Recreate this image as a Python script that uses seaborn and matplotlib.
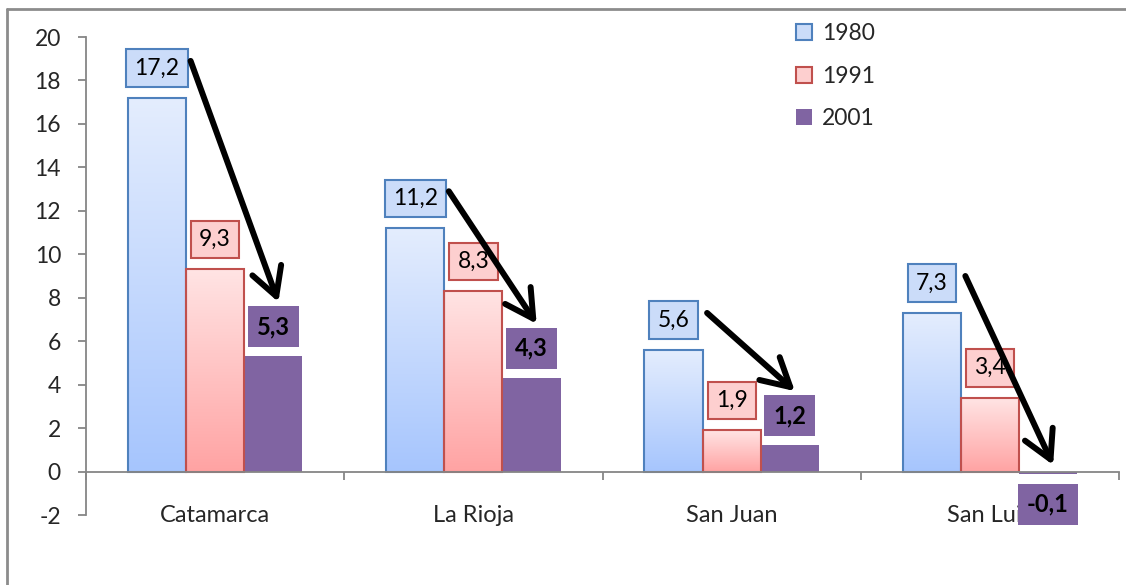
import numpy as np
import pandas as pd
import matplotlib
matplotlib.use("Agg")
import matplotlib.pyplot as plt
import seaborn as sns
from matplotlib.colors import LinearSegmentedColormap
from matplotlib.patches import Patch
from matplotlib.lines import Line2D

# ---------------- data ----------------
provincias = ["Catamarca", "La Rioja", "San Juan", "San Luis"]
anios = ["1980", "1991", "2001"]
v1980 = [17.2, 11.2, 5.6, 7.3]
v1991 = [9.3, 8.3, 1.9, 3.4]
v2001 = [5.3, 4.3, 1.2, -0.1]
yticks = list(range(-2, 21, 2))

df = pd.DataFrame({
    "provincia": provincias * 3,
    "anio": [a for a in anios for _ in provincias],
    "valor": v1980 + v1991 + v2001,
})

# ---------------- style ----------------
sns.set_theme(style="white")
plt.rcParams["font.family"] = ["Lato", "DejaVu Sans"]
FS = 16.5

blue_edge = "#4f81bd"
red_edge = "#c0504d"
purple = "#8064a2"
blue_cmap = LinearSegmentedColormap.from_list("b", ["#a6c5fd", "#e4edfe"])
red_cmap = LinearSegmentedColormap.from_list("r", ["#ffa3a3", "#ffe4e4"])

fig = plt.figure(figsize=(11.26, 5.85), dpi=100)
ax = fig.add_axes([86 / 1126, 1 - 515 / 585, (1119 - 86) / 1126, (515 - 37) / 585])

sns.barplot(data=df, x="provincia", y="valor", hue="anio", hue_order=anios,
            palette=["#c6d9f8", "#fdcaca", purple], width=0.675, gap=0,
            legend=False, ax=ax, saturation=1, errorbar=None)

# gradient fills for 1980 and 1991 bars
for cont, cmap, edge in [(ax.containers[0], blue_cmap, blue_edge),
                         (ax.containers[1], red_cmap, red_edge)]:
    for bar in cont:
        x0, y0 = bar.get_x(), bar.get_y()
        w, h = bar.get_width(), bar.get_height()
        grad = np.linspace(0, 1, 256).reshape(-1, 1)
        ax.imshow(grad, extent=[x0, x0 + w, y0, y0 + h], origin="lower",
                  aspect="auto", cmap=cmap, zorder=2)
        bar.set_facecolor("none")
        bar.set_edgecolor(edge)
        bar.set_linewidth(1.5)
        bar.set_zorder(2.2)
for bar in ax.containers[2]:
    bar.set_facecolor(purple)
    bar.set_edgecolor("none")

ax.set_xlim(-0.5, 3.5)
ax.set_ylim(-2, 20)
ax.set_xlabel("")
ax.set_ylabel("")

# axes styling
gray = "#868686"
for s in ["top", "right"]:
    ax.spines[s].set_visible(False)
ax.spines["left"].set_color(gray)
ax.spines["left"].set_linewidth(1.3)
ax.spines["bottom"].set_position(("data", 0))
ax.spines["bottom"].set_color(gray)
ax.spines["bottom"].set_linewidth(1.3)
ax.set_yticks(yticks)
ax.set_yticklabels([str(t) for t in yticks])
ax.tick_params(axis="y", direction="out", length=6, width=1.3, color=gray,
               labelsize=FS, pad=12, left=True)
ax.set_xticks(range(len(provincias)))
ax.set_xticklabels(provincias)
ax.set_xticks(np.arange(-0.5, len(provincias), 1.0), minor=True)
ax.tick_params(axis="x", which="major", length=0, labelsize=FS + 0.5, pad=24)
ax.tick_params(axis="x", which="minor", direction="out", length=6, width=1.3,
               color=gray, bottom=True)

# value labels
def fmt(v):
    return f"{v:.1f}".replace(".", ",")

label_styles = [
    dict(fc="#cbdcf9", ec=blue_edge, weight="normal", pad=0.36, fs=FS),
    dict(fc="#fdcfcf", ec=red_edge, weight="normal", pad=0.36, fs=FS),
    dict(fc=purple, ec="none", weight="bold", pad=0.38, fs=FS + 0.5),
]
for cont, vals, st in zip(ax.containers, [v1980, v1991, v2001], label_styles):
    for bar, v in zip(cont, vals):
        xc = bar.get_x() + bar.get_width() / 2
        off = 21.5 if v >= 0 else -22
        ax.annotate(fmt(v), xy=(xc, v), xytext=(0, off), textcoords="offset points",
                    ha="center", va="center", fontsize=st["fs"], fontweight=st["weight"],
                    color="black", zorder=6, annotation_clip=False,
                    bbox=dict(boxstyle=f"square,pad={st['pad']}", fc=st["fc"],
                              ec=st["ec"], lw=1.5))

# arrows from 1980 label to 2001 label
for b1, b3, v1, v3 in zip(ax.containers[0], ax.containers[2], v1980, v2001):
    x1 = b1.get_x() + b1.get_width() / 2 + 0.13
    x3 = b3.get_x() + b3.get_width() / 2 + 0.02
    y1 = v1 + 1.7
    y3 = v3 + 2.5 if v3 >= 0 else 0.3
    ax.annotate("", xy=(x3, y3), xytext=(x1, y1),
                arrowprops=dict(arrowstyle="->,head_length=1.0,head_width=0.55",
                                lw=4.3, color="black", mutation_scale=20,
                                shrinkA=0, shrinkB=0),
                zorder=7)

# legend
handles = [
    Patch(fc="#cbdcf9", ec=blue_edge, lw=1.5, label="1980"),
    Patch(fc="#fdcfcf", ec=red_edge, lw=1.5, label="1991"),
    Patch(fc=purple, ec="none", label="2001"),
]
fig.legend(handles=handles, loc="upper left", bbox_to_anchor=(785 / 1126, 1 - 12 / 585),
           frameon=False, fontsize=FS, handlelength=0.7, handleheight=0.7,
           handletextpad=0.4, labelspacing=0.93, borderpad=0)

# chart frame (left and top edges only; the rest is cut off)
fig.add_artist(Line2D([7 / 1126, 7 / 1126], [0, 1 - 9 / 585], transform=fig.transFigure,
                      color="#8c8c8c", lw=2))
fig.add_artist(Line2D([7 / 1126, 1], [1 - 9 / 585, 1 - 9 / 585], transform=fig.transFigure,
                      color="#8c8c8c", lw=2))

fig.savefig("out.png", dpi=100)
